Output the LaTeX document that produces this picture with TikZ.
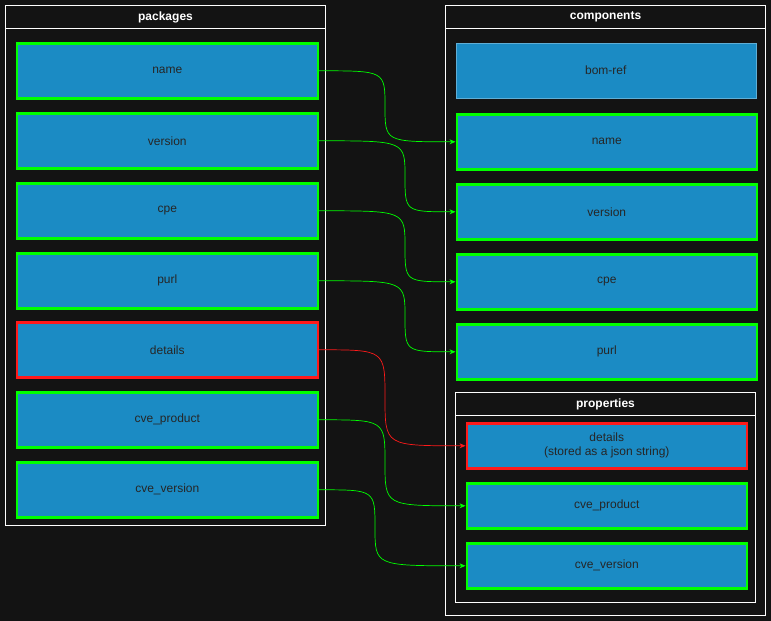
\documentclass[tikz,border=0pt]{standalone}
\usepackage{fontspec}
\setmainfont{Liberation Sans}
\usetikzlibrary{arrows.meta,calc}
\definecolor{bg}{HTML}{131313}
\definecolor{boxf}{HTML}{1B8BC4}
\definecolor{gr}{HTML}{00FF00}
\definecolor{rd}{HTML}{FF1A1A}
\begin{document}
\begin{tikzpicture}[x=1pt,y=-1pt,
  cont/.style={draw=white,line width=0.8pt},
  title/.style={text=white,font=\fontsize{12}{14}\selectfont\bfseries},
  fbox/.style={draw=gr,line width=2.6pt,fill=boxf,font=\fontsize{12}{14}\selectfont,text=black!85,align=center},
  rbox/.style={fbox,draw=rd},
  conn/.style={line width=0.7pt,-{Stealth[length=6pt,width=5pt]}}]
\fill[bg] (0,0) rectangle (771,621);
\useasboundingbox (0,0) rectangle (771,621);
% packages
\draw[cont] (5.5,5.5) rectangle (325.5,525.5);
\draw[cont] (5.5,28.5) -- (325.5,28.5);
\node[title] (pt) at (165.5,17) {packages};
\foreach \n/\y/\s/\t in {pname/42/fbox/name,pversion/112/fbox/version,pcpe/182/fbox/cpe,ppurl/252/fbox/purl,pdetails/321/rbox/details,pcvep/391/fbox/cve\_product,pcvev/461/fbox/cve\_version}
  \node[\s,minimum width=301pt,minimum height=55pt,anchor=north west,inner sep=0pt] (\n) at (15.5,\y) {\t};
% components
\draw[cont] (445.5,5.5) rectangle (765.5,615.5);
\draw[cont] (445.5,28.5) -- (765.5,28.5);
\node[title] (ct) at (605.5,17) {components};
\node[fbox,draw=boxf!70!white,line width=0.6pt,minimum width=300pt,minimum height=55pt,anchor=north west,inner sep=0pt] (bom) at (455.5,42.5) {bom-ref};
\foreach \n/\y/\t in {cname/113/name,cversion/183/version,ccpe/253/cpe,cpurl/323/purl}
  \node[fbox,minimum width=300pt,minimum height=55pt,anchor=north west,inner sep=0pt] (\n) at (455.5,\y) {\t};
% properties
\draw[cont] (455.5,392.5) rectangle (755.5,602.5);
\draw[cont] (455.5,415.5) -- (755.5,415.5);
\node[title] (prt) at (605.5,404) {properties};
\node[rbox,minimum width=280pt,minimum height=45pt,anchor=north west,inner sep=0pt] (rdetails) at (465.5,422) {details\\(stored as a json string)};
\node[fbox,minimum width=280pt,minimum height=45pt,anchor=north west,inner sep=0pt] (rcvep) at (465.5,482) {cve\_product};
\node[fbox,minimum width=280pt,minimum height=45pt,anchor=north west,inner sep=0pt] (rcvev) at (465.5,542) {cve\_version};
% connectors
\foreach \a/\b/\m/\c in {pname/cname/385/gr,pversion/cversion/405/gr,pcpe/ccpe/405/gr,ppurl/cpurl/405/gr,pdetails/rdetails/385/rd,pcvep/rcvep/385/gr,pcvev/rcvev/375/gr}{
  \coordinate (mx) at (\m,0);
  \draw[conn,\c] (\a.east) .. controls (\a.east -| mx) .. ($(\a.east -| mx)!0.5!(\b.west -| mx)$) .. controls (\b.west -| mx) .. (\b.west);
}
\end{tikzpicture}
\end{document}
